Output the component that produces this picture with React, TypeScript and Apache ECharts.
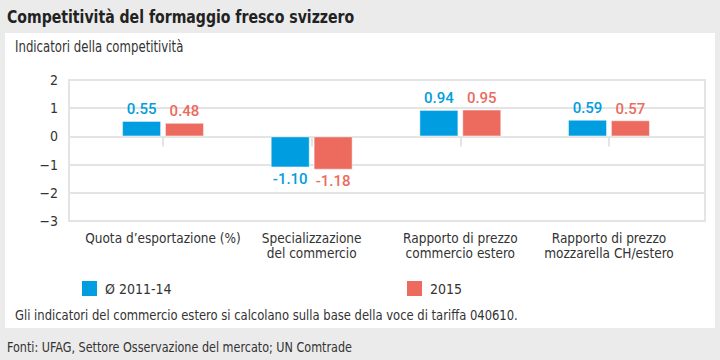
import React, { useEffect, useRef } from "react";
import * as echarts from "echarts";

const categories = [
  "Quota d’esportazione (%)",
  "Specializzazione\ndel commercio",
  "Rapporto di prezzo\ncommercio estero",
  "Rapporto di prezzo\nmozzarella CH/estero",
];
const seriesNames = ["Ø 2011-14", "2015"];
const values2011_14 = [0.55, -1.1, 0.94, 0.59];
const values2015 = [0.48, -1.18, 0.95, 0.57];
const yTicks = [-3, -2, -1, 0, 1, 2];

const BLUE = "#009ee0";
const RED = "#ec6b5e";
const GRIDC = "#e4e4e4";
const FONT = "'DejaVu Sans Condensed', 'Liberation Sans', sans-serif";
const NUMFONT = "Roboto, 'Liberation Sans', sans-serif";

function toData(vals: number[]) {
  return vals.map((v) => ({
    value: v,
    label: { position: v < 0 ? "bottom" : "top" },
  }));
}

export default function App() {
  const ref = useRef<HTMLDivElement>(null);
  useEffect(() => {
    if (!ref.current) return;
    const chart = echarts.init(ref.current, null, { renderer: "svg" });
    const yMin = yTicks[0];
    const yMax = yTicks[yTicks.length - 1];
    const barLabel = (color: string) => ({
      show: true,
      color,
      fontFamily: NUMFONT,
      fontSize: 15,
      fontWeight: 500,
      distance: 4,
      formatter: (p: any) => p.value.toFixed(2),
    });
    const txt = (x: number, y: number, text: string, size: number, sx: number, bold = false) => ({
      type: "text",
      x,
      y,
      scaleX: sx,
      style: {
        text,
        fontFamily: FONT,
        fontSize: size,
        fontWeight: bold ? "bold" : "normal",
        fill: bold ? "#222" : "#333",
        verticalAlign: "middle",
      },
    });
    chart.setOption({
      animation: false,
      backgroundColor: "#ebebeb",
      textStyle: { fontFamily: FONT },
      graphic: [
        {
          type: "rect",
          z: -10,
          shape: { x: 5, y: 33, width: 710, height: 295 },
          style: { fill: "#ffffff" },
        },
        txt(7, 17, "Competitività del formaggio fresco svizzero", 18, 0.87, true),
        txt(15, 47, "Indicatori della competitività", 15, 0.87),
        txt(15, 315, "Gli indicatori del commercio estero si calcolano sulla base della voce di tariffa 040610.", 14, 0.92),
        txt(7, 347, "Fonti: UFAG, Settore Osservazione del mercato; UN Comtrade", 14, 0.89),
      ],
      legend: [
        {
          data: [seriesNames[0]],
          left: 77,
          top: 276,
          icon: "rect",
          itemWidth: 15,
          itemHeight: 15,
          itemStyle: { borderWidth: 0 },
          textStyle: { fontFamily: FONT, fontSize: 14, color: "#333", padding: [0, 0, 0, 3] },
        },
        {
          data: [seriesNames[1]],
          left: 402,
          top: 276,
          icon: "rect",
          itemWidth: 15,
          itemHeight: 15,
          itemStyle: { borderWidth: 0 },
          textStyle: { fontFamily: FONT, fontSize: 14, color: "#333", padding: [0, 0, 0, 3] },
        },
      ],
      grid: [
        {
          left: 69,
          right: 15,
          top: 80,
          bottom: 139,
          show: true,
          borderColor: GRIDC,
          borderWidth: 2,
        },
        {
          left: 88.7,
          right: 36.7,
          top: 80,
          bottom: 139,
        },
      ],
      xAxis: [
        { type: "value", gridIndex: 0, show: false },
        {
          type: "category",
          gridIndex: 1,
          data: categories,
          offset: -5,
          axisLine: { show: false },
          axisTick: {
            show: true,
            alignWithLabel: true,
            length: 10,
            lineStyle: { color: GRIDC, width: 2 },
          },
          axisLabel: {
            interval: 0,
            fontFamily: FONT,
            fontSize: 13.5,
            lineHeight: 15,
            color: "#333",
            margin: 14,
          },
        },
      ],
      yAxis: [
        {
          type: "value",
          gridIndex: 0,
          min: yMin,
          max: yMax,
          interval: 1,
          axisLine: { show: false },
          axisTick: { show: false },
          splitLine: { lineStyle: { color: GRIDC, width: 2 } },
          axisLabel: {
            fontFamily: FONT,
            fontSize: 14,
            color: "#333",
            margin: 11,
            formatter: (v: number) => (v < 0 ? "−" + Math.abs(v) : String(v)),
          },
        },
        {
          type: "value",
          gridIndex: 1,
          min: yMin,
          max: yMax,
          interval: 1,
          show: false,
          splitLine: { show: false },
        },
      ],
      series: [
        {
          name: seriesNames[0],
          type: "bar",
          xAxisIndex: 1,
          yAxisIndex: 1,
          data: toData(values2011_14),
          barWidth: 39,
          barGap: "10%",
          itemStyle: { color: BLUE, borderColor: "rgba(255,255,255,0.45)", borderWidth: 1 },
          label: barLabel(BLUE),
        },
        {
          name: seriesNames[1],
          type: "bar",
          xAxisIndex: 1,
          yAxisIndex: 1,
          data: toData(values2015),
          barWidth: 39,
          barGap: "10%",
          itemStyle: { color: RED, borderColor: "rgba(255,255,255,0.45)", borderWidth: 1 },
          label: barLabel(RED),
        },
      ],
    });
    return () => chart.dispose();
  }, []);
  return (
    <div
      ref={ref}
      style={{ position: "absolute", left: 0, top: 0, width: 720, height: 360 }}
    />
  );
}
